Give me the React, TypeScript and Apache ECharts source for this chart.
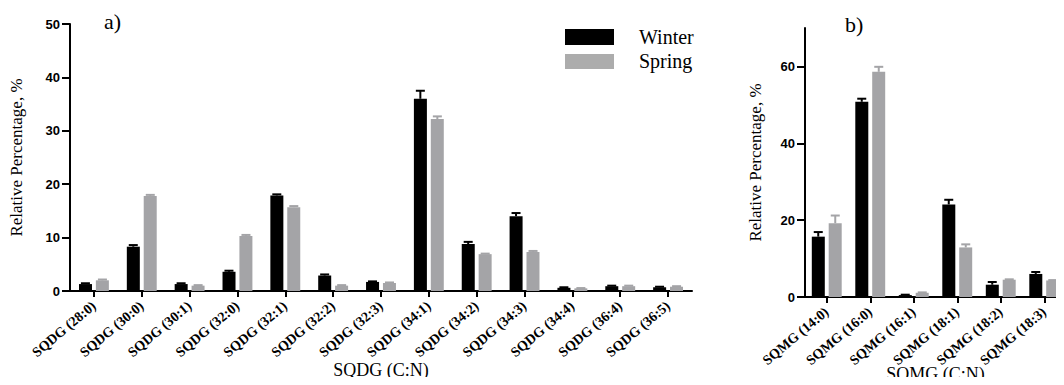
import React, { useEffect, useRef } from "react";
import * as echarts from "echarts";

const catsA = ["SQDG (28:0)", "SQDG (30:0)", "SQDG (30:1)", "SQDG (32:0)", "SQDG (32:1)", "SQDG (32:2)", "SQDG (32:3)", "SQDG (34:1)", "SQDG (34:2)", "SQDG (34:3)", "SQDG (34:4)", "SQDG (36:4)", "SQDG (36:5)"];
const winterA = [1.3, 8.3, 1.3, 3.6, 17.9, 2.9, 1.7, 36.0, 8.8, 14.0, 0.6, 0.9, 0.7];
const winterAErr = [0.15, 0.3, 0.15, 0.2, 0.2, 0.2, 0.1, 1.5, 0.4, 0.6, 0.1, 0.1, 0.1];
const springA = [2.0, 17.8, 1.0, 10.3, 15.7, 1.0, 1.5, 32.2, 6.9, 7.3, 0.5, 0.9, 0.8];
const springAErr = [0.15, 0.2, 0.1, 0.2, 0.2, 0.1, 0.1, 0.5, 0.1, 0.2, 0.05, 0.1, 0.1];

const catsB = ["SQMG (14:0)", "SQMG (16:0)", "SQMG (16:1)", "SQMG (18:1)", "SQMG (18:2)", "SQMG (18:3)"];
const winterB = [15.7, 50.8, 0.5, 24.1, 3.2, 6.0];
const winterBErr = [1.2, 0.8, 0.1, 1.2, 0.7, 0.5];
const springB = [19.2, 58.6, 1.1, 12.9, 4.5, 4.3];
const springBErr = [2.0, 1.3, 0.1, 0.8, 0.1, 0.1];

const yTicksA = [0, 10, 20, 30, 40, 50];
const yTicksB = [0, 20, 40, 60];

const BLACK = "#000000";
const GREY = "#a4a4a7";
const BAR_W = 13;
const GAP = 4;
const OFF = (BAR_W + GAP) / 2;

function errSeries(vals: number[], errs: number[], idx: number, offset: number, color: string) {
  return {
    type: "custom",
    xAxisIndex: idx,
    yAxisIndex: idx,
    z: 1,
    silent: true,
    encode: { x: 0, y: 1 },
    data: vals.map((v, i) => [i, v, errs[i]]),
    renderItem: (params: any, api: any) => {
      const base = api.coord([api.value(0), api.value(1)]);
      const top = api.coord([api.value(0), api.value(1) + api.value(2)]);
      const x = base[0] + offset;
      return {
        type: "group",
        children: [
          { type: "line", shape: { x1: x, y1: base[1], x2: x, y2: top[1] }, style: { stroke: color, lineWidth: 2 } },
          { type: "line", shape: { x1: x - 4.5, y1: top[1], x2: x + 4.5, y2: top[1] }, style: { stroke: color, lineWidth: 2 } },
        ],
      };
    },
  };
}

export default function App() {
  const ref = useRef<HTMLDivElement>(null);
  useEffect(() => {
    if (!ref.current) return;
    const chart = echarts.init(ref.current, null, { renderer: "svg" });
    const axisLine = { show: true, lineStyle: { color: "#000", width: 2 } };
    const yLabel = { color: "#000", fontFamily: "Liberation Sans", fontWeight: "bold", fontSize: 13, margin: 10 };
    const xLabel = {
      color: "#000", fontFamily: "Liberation Serif", fontWeight: "bold", fontSize: 14,
      rotate: 40, margin: 13, interval: 0, hideOverlap: false, overflow: "none",
    };
    const nameStyle = { color: "#000", fontFamily: "Liberation Serif", fontSize: 18 };
    const yTick = { show: true, length: 8, lineStyle: { color: "#000", width: 2 } };
    const xTick = { show: true, alignWithLabel: true, length: 6, lineStyle: { color: "#000", width: 2 } };
    chart.setOption({
      animation: false,
      backgroundColor: "#ffffff",
      grid: [
        { left: 70, top: 24, width: 622, height: 267, containLabel: false, outerBoundsMode: "none" },
        { left: 805, top: 28, width: 261, height: 269, containLabel: false, outerBoundsMode: "none" },
      ],
      xAxis: [
        {
          type: "category", gridIndex: 0, data: catsA,
          axisLine, axisTick: xTick, axisLabel: xLabel,
          name: "SQDG (C:N)", nameLocation: "middle", nameGap: 70, nameMoveOverlap: false, nameTextStyle: nameStyle,
        },
        {
          type: "category", gridIndex: 1, data: catsB,
          axisLine, axisTick: xTick, axisLabel: xLabel,
          name: "SQMG (C:N)", nameLocation: "middle", nameGap: 68, nameMoveOverlap: false, nameTextStyle: nameStyle,
        },
      ],
      yAxis: [
        {
          type: "value", gridIndex: 0, min: 0, max: 50, interval: 10,
          axisLine, axisTick: { ...yTick, customValues: yTicksA },
          axisLabel: { ...yLabel, customValues: yTicksA }, splitLine: { show: false },
          name: "Relative Percentage, %", nameLocation: "middle", nameGap: 45, nameMoveOverlap: false, nameTextStyle: { ...nameStyle, fontSize: 17 },
        },
        {
          type: "value", gridIndex: 1, min: 0, max: 70, interval: 20,
          axisLine, axisTick: { ...yTick, customValues: yTicksB },
          axisLabel: { ...yLabel, customValues: yTicksB }, splitLine: { show: false },
          name: "Relative Percentage, %", nameLocation: "middle", nameGap: 41, nameMoveOverlap: false, nameTextStyle: { ...nameStyle, fontSize: 17 },
        },
      ],
      series: [
        { name: "Winter", type: "bar", xAxisIndex: 0, yAxisIndex: 0, data: winterA, barWidth: BAR_W, barGap: "30%", itemStyle: { color: BLACK }, z: 2 },
        { name: "Spring", type: "bar", xAxisIndex: 0, yAxisIndex: 0, data: springA, barWidth: BAR_W, barGap: "30%", itemStyle: { color: GREY }, z: 2 },
        { name: "WinterB", type: "bar", xAxisIndex: 1, yAxisIndex: 1, data: winterB, barWidth: BAR_W, barGap: "30%", itemStyle: { color: BLACK }, z: 2 },
        { name: "SpringB", type: "bar", xAxisIndex: 1, yAxisIndex: 1, data: springB, barWidth: BAR_W, barGap: "30%", itemStyle: { color: GREY }, z: 2 },
        errSeries(winterA, winterAErr, 0, -OFF, BLACK),
        errSeries(springA, springAErr, 0, OFF, GREY),
        errSeries(winterB, winterBErr, 1, -OFF, BLACK),
        errSeries(springB, springBErr, 1, OFF, GREY),
      ],
      graphic: [
        { type: "text", left: 104, top: 10, style: { text: "a)", fontFamily: "Liberation Serif", fontSize: 22, fill: "#000" } },
        { type: "text", left: 845, top: 13, style: { text: "b)", fontFamily: "Liberation Serif", fontSize: 22, fill: "#000" } },
        { type: "rect", shape: { x: 565, y: 29, width: 49, height: 16 }, style: { fill: BLACK } },
        { type: "rect", shape: { x: 565, y: 54, width: 49, height: 15 }, style: { fill: "#acacac" } },
        { type: "text", left: 639, top: 27, style: { text: "Winter", fontFamily: "Liberation Serif", fontSize: 20, fill: "#000" } },
        { type: "text", left: 639, top: 51, style: { text: "Spring", fontFamily: "Liberation Serif", fontSize: 20, fill: "#000" } },
      ],
    });
    return () => chart.dispose();
  }, []);
  return <div ref={ref} style={{ width: 1064, height: 385, margin: -8 }} />;
}
